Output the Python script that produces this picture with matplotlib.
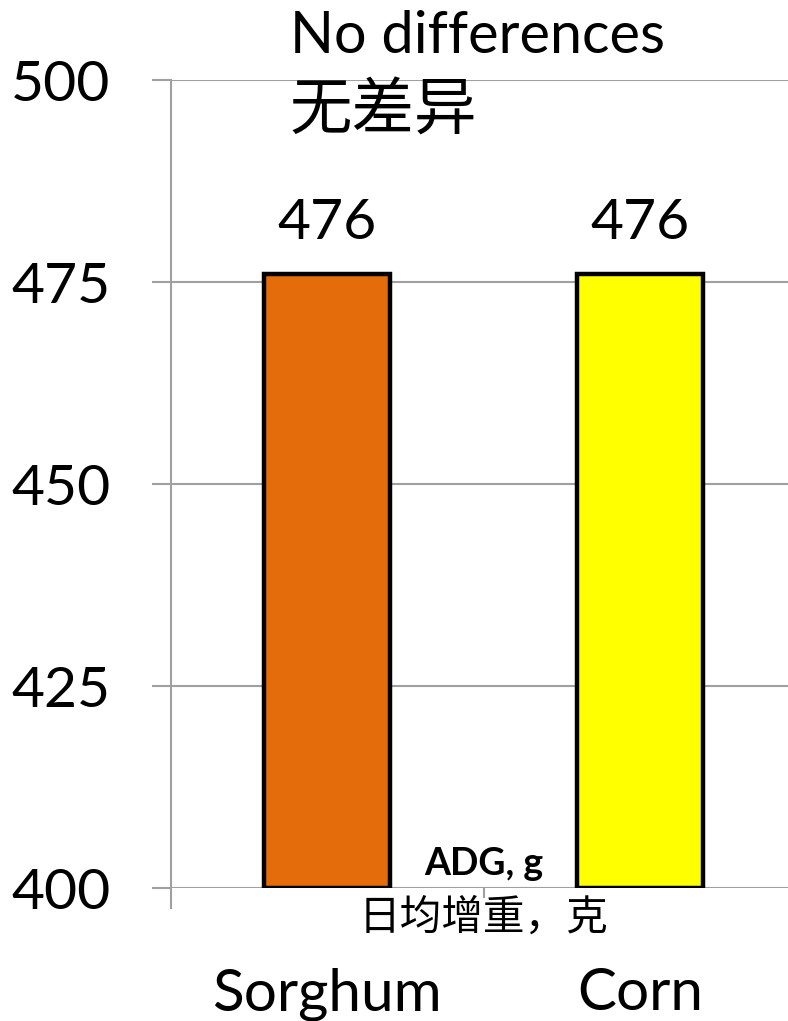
import matplotlib
matplotlib.use('Agg')
import matplotlib.pyplot as plt
import matplotlib.transforms as mtransforms

plt.rcParams['font.family'] = ['Lato', 'Noto Sans CJK SC', 'DejaVu Sans']

# ADG, g by feed grain
categories = ['Sorghum', 'Corn']
adg = [476, 476]
bar_colors = ['#E46C0A', '#FFFF00']
yticks = [400, 425, 450, 475, 500]

GRID = '#A0A0A0'
CJK = ['Noto Sans CJK SC', 'DejaVu Sans']

fig = plt.figure(figsize=(7.88, 10.21), dpi=100)
ax = fig.add_axes([171 / 788, 1 - 888 / 1021, 625 / 788, 808 / 1021])

x = list(range(len(categories)))
ax.bar(x, [v - 400 for v in adg], bottom=400, width=0.403, color=bar_colors,
       edgecolor='black', linewidth=3.2, zorder=3)

ax.set_xlim(-0.5, 1.5)
ax.set_ylim(400, 500)
ax.set_yticks(yticks)
ax.set_yticklabels([str(t) for t in yticks], fontsize=41)
ax.yaxis.grid(True, color=GRID, linewidth=1.5, zorder=0)
ax.tick_params(axis='y', length=13.5, width=1.5, color=GRID, pad=30)
ax.set_xticks([0.5])
ax.set_xticklabels([''])
ax.tick_params(axis='x', length=7, width=1.5, color=GRID)

for s in ['top', 'right', 'bottom', 'left']:
    ax.spines[s].set_visible(False)
# vertical axis line, running a bit below the baseline
ax.axvline(-0.5, ymin=-0.025, ymax=1, color=GRID, linewidth=1.5, clip_on=False, zorder=2)

# value labels above bars
for xi, v in zip(x, adg):
    ax.annotate(str(v), (xi, v), xytext=(0, 18), textcoords='offset points',
                ha='center', va='bottom', fontsize=41)

trans = mtransforms.blended_transform_factory(ax.transData, ax.transAxes)
for xi, name in zip(x, categories):
    ax.text(xi, -0.151, name, transform=trans, ha='center', va='baseline', fontsize=42)

ax.text(0.5, 0.016, 'ADG, g', transform=trans, ha='center', va='baseline',
        fontsize=27, fontweight='bold')
ax.text(0.5, -0.052, '日均增重，克', transform=trans, ha='center', va='baseline',
        fontsize=30, family=CJK)

fig.text(290 / 788, 1 - 53 / 1021, 'No differences', ha='left', va='baseline', fontsize=41.5)
fig.text(290 / 788, 1 - 130 / 1021, '无差异', ha='left', va='baseline', fontsize=45, family=CJK)

fig.savefig('out.png', dpi=100)
